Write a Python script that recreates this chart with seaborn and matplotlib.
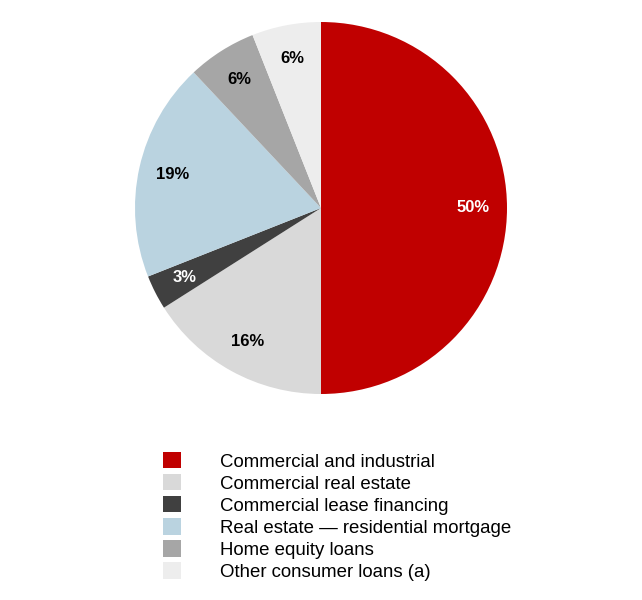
import matplotlib
matplotlib.use("Agg")
import matplotlib.pyplot as plt
import matplotlib.patches as mpatches
import seaborn as sns

# Loan portfolio composition
categories = [
    "Commercial and industrial",
    "Commercial real estate",
    "Commercial lease financing",
    "Real estate \u2014 residential mortgage",
    "Home equity loans",
    "Other consumer loans (a)",
]
shares = [50, 16, 3, 19, 6, 6]
colors = ["#C00000", "#D9D9D9", "#404040", "#BAD3E0", "#A6A6A6", "#EDEDED"]
label_colors = ["white", "black", "white", "black", "black", "black"]

sns.set_theme(style="white")
plt.rcParams["font.family"] = ["Liberation Sans", "DejaVu Sans"]
plt.rcParams["text.color"] = "black"

fig = plt.figure(figsize=(6.42, 6.0), dpi=100)
ax = fig.add_axes([135 / 642, 1 - 394 / 600, 372 / 642, 372 / 600])

wedges, texts, autotexts = ax.pie(
    shares,
    colors=colors,
    startangle=90,
    counterclock=False,
    autopct="%1.0f%%",
    pctdistance=0.82,
    radius=1.0,
    wedgeprops=dict(linewidth=0),
    textprops=dict(fontsize=12, fontweight="bold"),
)
for t, c in zip(autotexts, label_colors):
    t.set_color(c)
ax.set_xlim(-1, 1)
ax.set_ylim(-1, 1)
ax.axis("off")

handles = [mpatches.Patch(facecolor=c, edgecolor="none") for c in colors]
leg = fig.legend(
    handles, categories,
    loc="upper left",
    bbox_to_anchor=(163 / 642, 1 - 452 / 600),
    frameon=False,
    fontsize=13.4,
    handlelength=0.97,
    handleheight=0.97,
    handletextpad=2.1,
    labelspacing=0.19,
    borderpad=0,
    borderaxespad=0,
)
for t in leg.get_texts():
    t.set_color("black")

fig.savefig("out.png", dpi=100)
